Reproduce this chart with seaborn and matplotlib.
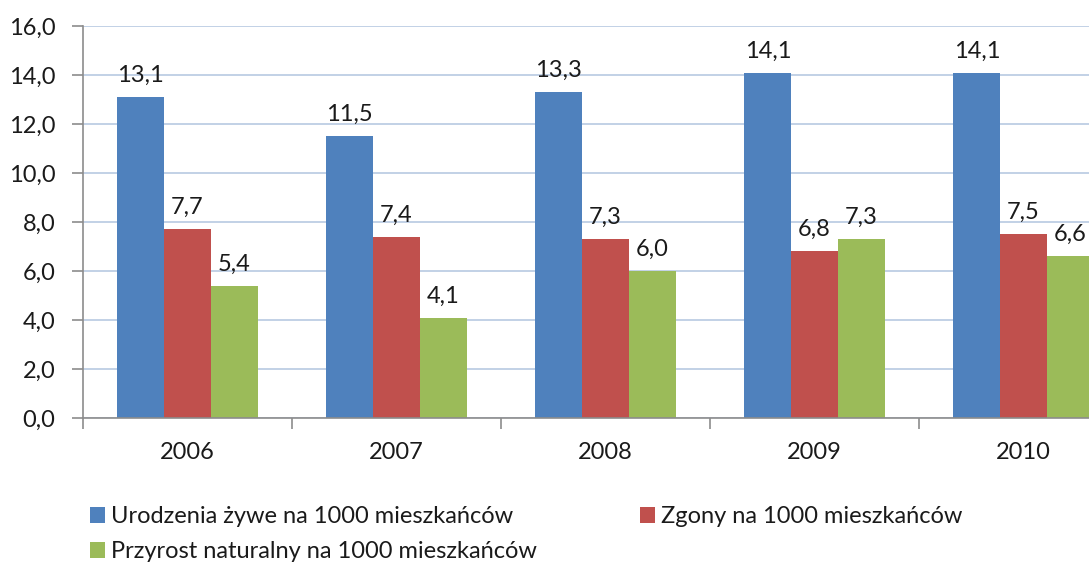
import matplotlib
matplotlib.use("Agg")
import matplotlib.pyplot as plt
import seaborn as sns
import pandas as pd
from matplotlib.patches import Patch
from matplotlib.ticker import FuncFormatter, FixedLocator

years = ["2006", "2007", "2008", "2009", "2010"]
urodzenia = [13.1, 11.5, 13.3, 14.1, 14.1]
zgony = [7.7, 7.4, 7.3, 6.8, 7.5]
przyrost = [5.4, 4.1, 6.0, 7.3, 6.6]
series_names = ["Urodzenia żywe na 1000 mieszkańców",
                "Zgony na 1000 mieszkańców",
                "Przyrost naturalny na 1000 mieszkańców"]
colors = ["#4F81BD", "#C0504D", "#9BBB59"]

rows = []
for name, vals in zip(series_names, [urodzenia, zgony, przyrost]):
    for y, v in zip(years, vals):
        rows.append({"rok": y, "wartosc": v, "seria": name})
df = pd.DataFrame(rows)

sns.set_theme(style="white")
plt.rcParams["font.family"] = ["Lato", "DejaVu Sans"]

FS = 17
W, H = 1089, 562
fig = plt.figure(figsize=(W / 100, H / 100), dpi=100)
ax = fig.add_axes([83 / W, (H - 418) / H, 1045 / W, 392 / H])

sns.barplot(data=df, x="rok", y="wartosc", hue="seria", palette=colors,
            width=0.67, saturation=1, ax=ax, legend=False, linewidth=0)

fmt = lambda v: f"{v:.1f}".replace(".", ",")
for c in ax.containers:
    ax.bar_label(c, labels=[fmt(v) for v in c.datavalues], padding=8,
                 fontsize=FS, color="#1a1a1a")

ax.set_xlim(-0.5, 4.5)
ax.set_ylim(0, 16)
ax.set_yticks([0, 2, 4, 6, 8, 10, 12, 14, 16])
ax.yaxis.set_major_formatter(FuncFormatter(lambda v, p: fmt(v)))
ax.grid(axis="y", color="#B7C9E2", linewidth=1.2)
ax.set_axisbelow(True)
for s in ["top", "right"]:
    ax.spines[s].set_visible(False)
for s in ["left", "bottom"]:
    ax.spines[s].set_color("#8C8C8C")
    ax.spines[s].set_linewidth(1.2)
ax.set_xlabel("")
ax.set_ylabel("")
ax.tick_params(axis="y", which="major", length=8, color="#8C8C8C", width=1.2,
               labelsize=FS, labelcolor="#1a1a1a", pad=12, left=True)
ax.tick_params(axis="x", which="major", length=0, labelsize=FS,
               labelcolor="#1a1a1a", pad=17)
ax.xaxis.set_minor_locator(FixedLocator([-0.5, 0.5, 1.5, 2.5, 3.5]))
ax.tick_params(axis="x", which="minor", length=8, color="#8C8C8C", width=1.2,
               bottom=True)

handles = [Patch(facecolor=c, edgecolor="none") for c in colors]
order = [0, 2, 1]
fig.legend([handles[i] for i in order], [series_names[i] for i in order],
           ncol=2, loc="upper left", bbox_to_anchor=(90 / W, 1 - 506 / H),
           frameon=False, fontsize=FS, handlelength=0.65, handleheight=0.65,
           handletextpad=0.25, columnspacing=4.35, labelspacing=0.6,
           borderpad=0, borderaxespad=0, labelcolor="#1a1a1a")

fig.savefig("out.png", dpi=100)
